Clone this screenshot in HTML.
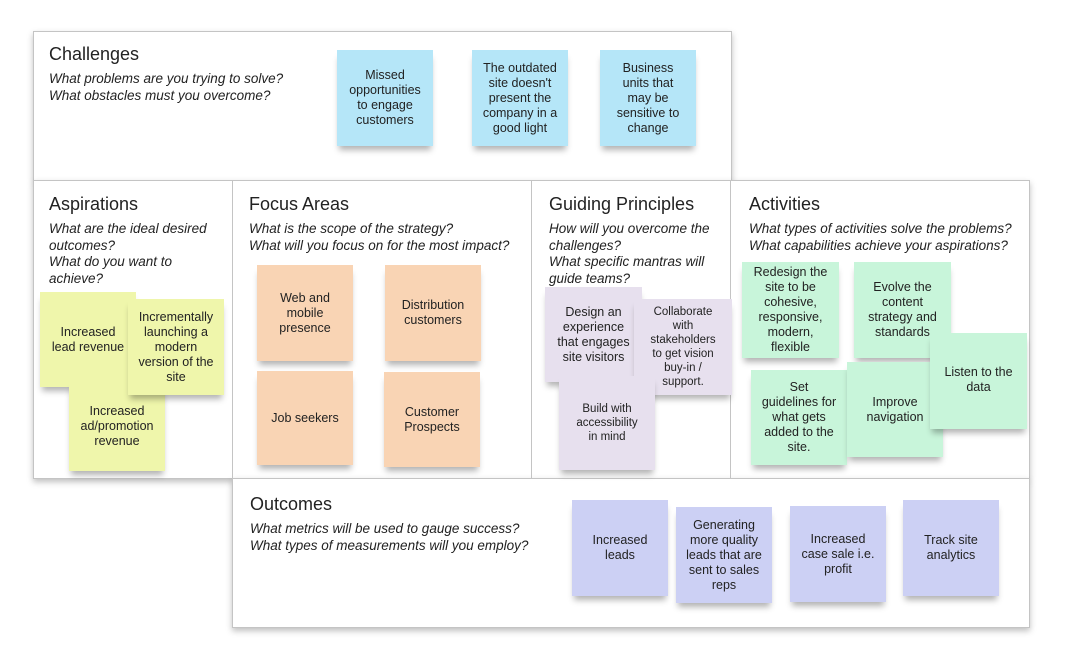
<!DOCTYPE html>
<html><head><meta charset="utf-8"><style>
body{margin:0;width:1070px;height:666px;background:#fff;position:relative;overflow:hidden;font-family:"Liberation Sans",Arial,sans-serif;}
.box{position:absolute;border:1px solid #c4c4c4;background:#fff;box-sizing:border-box;}
.sh{box-shadow:0 3px 6px rgba(0,0,0,0.25);}
.t{position:absolute;font-size:18px;color:#222;}
.q{position:absolute;font-size:13.5px;font-style:italic;color:#222;line-height:16.5px;}
.s{position:absolute;display:flex;align-items:center;justify-content:center;text-align:center;font-size:12.5px;line-height:15px;color:#222;box-sizing:border-box;padding:2px;white-space:nowrap;box-shadow:0 6px 6px -2px rgba(0,0,0,0.3);}
.b{background:#b5e6f8}.y{background:#eff6ab}.o{background:#f9d4b4}.l{background:#e7e0ee}.g{background:#c8f5da}.p{background:#ccd0f4}
</style></head><body>
<div class="box sh" style="left:33px;top:31px;width:699px;height:150px"></div>
<div class="box sh" style="left:33px;top:180px;width:997px;height:299px"></div>
<div class="box sh" style="left:232px;top:478px;width:798px;height:150px"></div>
<div style="position:absolute;left:232px;top:180px;width:1px;height:299px;background:#c4c4c4"></div>
<div style="position:absolute;left:531px;top:180px;width:1px;height:299px;background:#c4c4c4"></div>
<div style="position:absolute;left:730px;top:180px;width:1px;height:299px;background:#c4c4c4"></div>

<div class="t" style="left:49px;top:44px">Challenges</div>
<div class="q" style="left:49px;top:71px">What problems are you trying to solve?<br>What obstacles must you overcome?</div>
<div class="t" style="left:49px;top:194px">Aspirations</div>
<div class="q" style="left:49px;top:221px">What are the ideal desired<br>outcomes?<br>What do you want to<br>achieve?</div>
<div class="t" style="left:249px;top:194px">Focus Areas</div>
<div class="q" style="left:249px;top:221px">What is the scope of the strategy?<br>What will you focus on for the most impact?</div>
<div class="t" style="left:549px;top:194px">Guiding Principles</div>
<div class="q" style="left:549px;top:221px">How will you overcome the<br>challenges?<br>What specific mantras will<br>guide teams?</div>
<div class="t" style="left:749px;top:194px">Activities</div>
<div class="q" style="left:749px;top:221px">What types of activities solve the problems?<br>What capabilities achieve your aspirations?</div>
<div class="t" style="left:250px;top:494px">Outcomes</div>
<div class="q" style="left:250px;top:521px">What metrics will be used to gauge success?<br>What types of measurements will you employ?</div>

<div class="s b" style="left:337px;top:50px;width:96px;height:96px">Missed<br>opportunities<br>to engage<br>customers</div>
<div class="s b" style="left:472px;top:50px;width:96px;height:96px">The outdated<br>site doesn't<br>present the<br>company in a<br>good light</div>
<div class="s b" style="left:600px;top:50px;width:96px;height:96px">Business<br>units that<br>may be<br>sensitive to<br>change</div>

<div class="s y" style="left:40px;top:292px;width:96px;height:95px">Increased<br>lead revenue</div>
<div class="s y" style="left:69px;top:382px;width:96px;height:89px">Increased<br>ad/promotion<br>revenue</div>
<div class="s y" style="left:128px;top:299px;width:96px;height:96px">Incrementally<br>launching a<br>modern<br>version of the<br>site</div>

<div class="s o" style="left:257px;top:265px;width:96px;height:96px">Web and<br>mobile<br>presence</div>
<div class="s o" style="left:385px;top:265px;width:96px;height:96px">Distribution<br>customers</div>
<div class="s o" style="left:257px;top:371px;width:96px;height:94px">Job seekers</div>
<div class="s o" style="left:384px;top:372px;width:96px;height:95px">Customer<br>Prospects</div>

<div class="s l" style="left:545px;top:287px;width:97px;height:95px">Design an<br>experience<br>that engages<br>site visitors</div>
<div class="s l" style="left:634px;top:299px;width:98px;height:96px;font-size:11.5px;line-height:14px">Collaborate<br>with<br>stakeholders<br>to get vision<br>buy-in /<br>support.</div>
<div class="s l" style="left:559px;top:376px;width:96px;height:94px;font-size:11.5px;line-height:14px">Build with<br>accessibility<br>in mind</div>

<div class="s g" style="left:742px;top:262px;width:97px;height:96px">Redesign the<br>site to be<br>cohesive,<br>responsive,<br>modern,<br>flexible</div>
<div class="s g" style="left:854px;top:262px;width:97px;height:96px">Evolve the<br>content<br>strategy and<br>standards</div>
<div class="s g" style="left:751px;top:370px;width:96px;height:95px">Set<br>guidelines for<br>what gets<br>added to the<br>site.</div>
<div class="s g" style="left:847px;top:362px;width:96px;height:95px">Improve<br>navigation</div>
<div class="s g" style="left:930px;top:333px;width:97px;height:96px;align-items:flex-start;padding-top:32px">Listen to the<br>data</div>

<div class="s p" style="left:572px;top:500px;width:96px;height:96px">Increased<br>leads</div>
<div class="s p" style="left:676px;top:507px;width:96px;height:96px">Generating<br>more quality<br>leads that are<br>sent to sales<br>reps</div>
<div class="s p" style="left:790px;top:506px;width:96px;height:96px">Increased<br>case sale i.e.<br>profit</div>
<div class="s p" style="left:903px;top:500px;width:96px;height:96px">Track site<br>analytics</div>
</body></html>
